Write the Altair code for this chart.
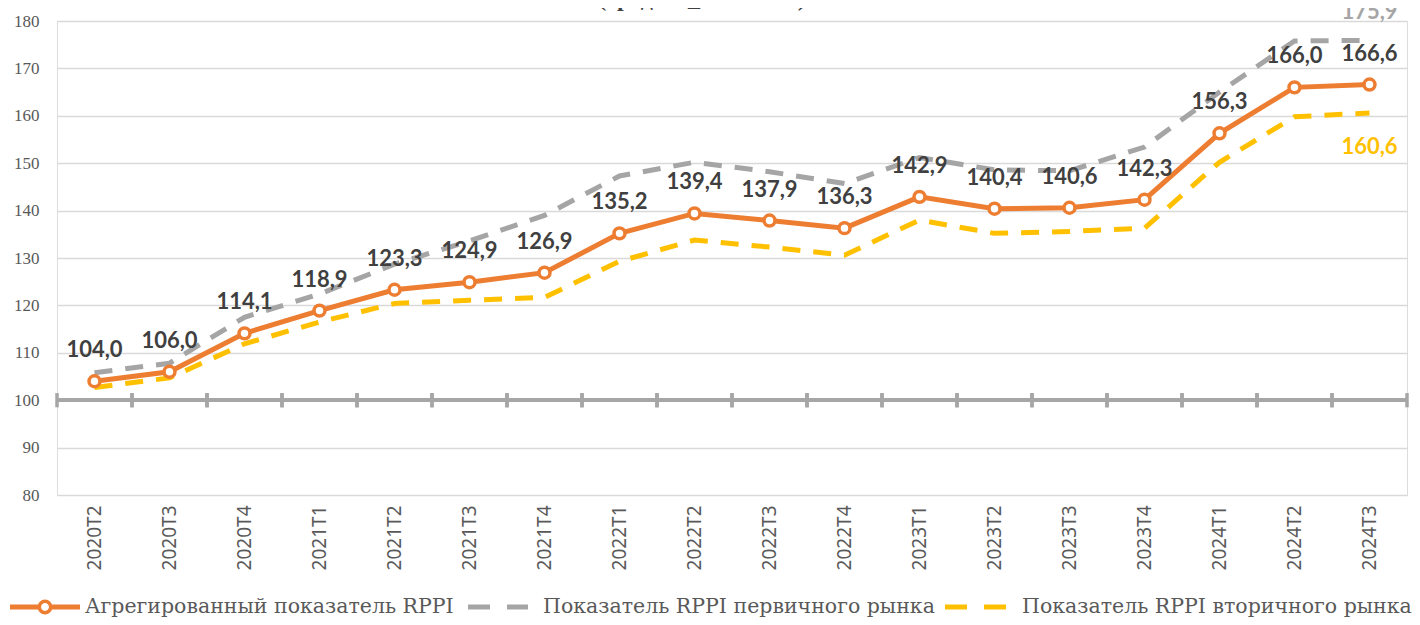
import altair as alt
import pandas as pd

quarters = ["2020T2", "2020T3", "2020T4", "2021T1", "2021T2", "2021T3", "2021T4",
            "2022T1", "2022T2", "2022T3", "2022T4", "2023T1", "2023T2", "2023T3",
            "2023T4", "2024T1", "2024T2", "2024T3"]
aggregated = [104.0, 106.0, 114.1, 118.9, 123.3, 124.9, 126.9, 135.2, 139.4, 137.9,
              136.3, 142.9, 140.4, 140.6, 142.3, 156.3, 166.0, 166.6]
primary = [105.8, 107.8, 117.5, 122.4, 128.7, 133.6, 139.0, 147.3, 150.2, 148.2,
           145.7, 151.2, 148.6, 148.4, 153.4, 165.0, 175.8, 175.9]
secondary = [102.7, 104.7, 111.9, 116.5, 120.4, 121.1, 121.7, 129.3, 133.8, 132.3,
             130.6, 138.0, 135.2, 135.6, 136.3, 150.2, 159.8, 160.6]

series_names = ["Агрегированный показатель RPPI",
                "Показатель RPPI первичного рынка",
                "Показатель RPPI вторичного рынка"]
series_colors = ["#ED7D31", "#A5A5A5", "#FFC000"]
title_text = "(среднее_2019=100)"

rows = []
for name, vals in zip(series_names, [aggregated, primary, secondary]):
    for q, v in zip(quarters, vals):
        rows.append({"series": name, "quarter": q, "value": v})
df = pd.DataFrame(rows)
qdf = pd.DataFrame({"quarter": quarters})

DASH = [18, 13]
xscale = alt.Scale(type="band", domain=quarters, paddingInner=0, paddingOuter=0)
yscale = alt.Scale(domain=[80, 180])

x_axis = alt.Axis(labelAngle=-90, labelFont="Noto Sans", labelFontSize=19,
                  labelColor="#595959", labelPadding=10, domain=False, ticks=False,
                  grid=False, title=None)
y_axis = alt.Axis(values=list(range(80, 181, 10)), labelFont="Liberation Serif",
                  labelFontSize=17, labelColor="#595959", labelPadding=18,
                  domain=False, ticks=False, grid=True, gridColor="#D9D9D9",
                  gridWidth=1.5, title=None)

base = alt.Chart(df)

grid = alt.Chart(qdf).mark_point(opacity=0).encode(
    x=alt.X("quarter:N", scale=xscale, axis=x_axis, sort=quarters),
    y=alt.datum(100, type="quantitative", scale=yscale, axis=y_axis),
)

axis100 = alt.Chart(qdf).mark_rule(color="#A6A6A6", strokeWidth=3.5).encode(
    y=alt.datum(100, type="quantitative"))

ticks0 = alt.Chart(qdf).mark_rule(color="#A6A6A6", strokeWidth=3.5).encode(
    x=alt.X("quarter:N", sort=quarters, bandPosition=0),
    y=alt.datum(98.5, type="quantitative"),
    y2=alt.datum(101.5))
ticks1 = alt.Chart(qdf).mark_rule(color="#A6A6A6", strokeWidth=3.5).encode(
    x=alt.X("quarter:N", sort=quarters, bandPosition=1),
    y=alt.datum(98.5, type="quantitative"),
    y2=alt.datum(101.5))

agg_name = series_names[0]

line_layers = []
for name, color, dashed in zip(series_names, series_colors, [False, True, True]):
    kw = {"strokeDash": DASH} if dashed else {}
    line_layers.append(
        base.transform_filter(alt.datum.series == name).mark_line(
            strokeWidth=5, color=color, **kw).encode(
            x=alt.X("quarter:N", sort=quarters), y=alt.Y("value:Q")))
# draw secondary and primary beneath aggregated
line_layers = [line_layers[1], line_layers[2], line_layers[0]]

agg = base.transform_filter(alt.datum.series == agg_name).transform_calculate(
    label="replace(format(datum.value, '.1f'), '.', ',')")

points = agg.mark_point(filled=True, fill="white", stroke="#ED7D31", strokeWidth=3.5,
                        size=120, opacity=1).encode(
    x=alt.X("quarter:N", sort=quarters), y="value:Q")

labels = agg.mark_text(font="Lato", fontSize=22, fontWeight="bold", color="#404040",
                       dy=-31).encode(
    x=alt.X("quarter:N", sort=quarters), y="value:Q", text="label:N")

last_q = quarters[-1]
prim_label = base.transform_filter(
    (alt.datum.series == series_names[1]) & (alt.datum.quarter == last_q)
).transform_calculate(label="replace(format(datum.value, '.1f'), '.', ',')").mark_text(
    font="Lato", fontSize=22, fontWeight="bold", color="#A5A5A5", dy=-28).encode(
    x=alt.X("quarter:N", sort=quarters), y="value:Q", text="label:N")

sec_label = base.transform_filter(
    (alt.datum.series == series_names[2]) & (alt.datum.quarter == last_q)
).transform_calculate(label="replace(format(datum.value, '.1f'), '.', ',')").mark_text(
    font="Lato", fontSize=22, fontWeight="bold", color="#FFC000", dy=34).encode(
    x=alt.X("quarter:N", sort=quarters), y="value:Q", text="label:N")

# manual legend below the chart (pixel layout relative to plot origin)
LEG_Y = 586
legend_layout = [(-47, 23, 28), (411, 471, 486), (888, 950, 965)]
legend_layers = []
for i, (name, color) in enumerate(zip(series_names, series_colors)):
    x1, x2, xt = legend_layout[i]
    ldf = pd.DataFrame({"name": [name]})
    kw = {"strokeDash": [22, 17]} if i > 0 else {}
    legend_layers.append(alt.Chart(ldf).mark_rule(color=color, strokeWidth=5, **kw).encode(
        x=alt.value(x1), x2=alt.value(x2), y=alt.value(LEG_Y)))
    if i == 0:
        legend_layers.append(alt.Chart(ldf).mark_point(
            filled=True, fill="white", stroke=color, strokeWidth=3.5, size=130,
            opacity=1).encode(x=alt.value((x1 + x2) / 2), y=alt.value(LEG_Y)))
    legend_layers.append(alt.Chart(ldf).mark_text(
        font="DejaVu Serif", fontSize=20.5, color="#595959", align="left",
        baseline="middle").encode(
        x=alt.value(xt), y=alt.value(LEG_Y), text="name:N"))

chart = alt.layer(grid, axis100, ticks0, ticks1, *line_layers, points, labels,
                  prim_label, sec_label, *legend_layers).properties(
    width=1350, height=474,
    autosize=alt.AutoSizeParams(type="none"),
    padding={"left": 49, "top": 13, "right": 5, "bottom": 130},
    title=alt.TitleParams(title_text, font="Liberation Serif", fontSize=24,
                          fontWeight="bold", color="#404040", offset=-10, dx=-30),
).configure_view(stroke=None).configure(background="white")

chart.save("out.html", embed_options={"renderer": "svg", "actions": False})
